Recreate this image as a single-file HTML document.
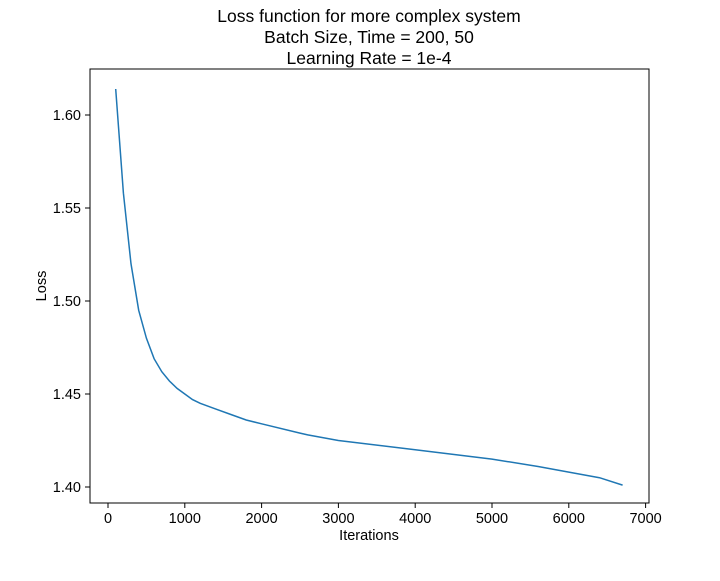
<!DOCTYPE html>
<html><head><meta charset="utf-8">
<style>
body{margin:0;background:#fff;font-family:"Liberation Sans",sans-serif;}
svg text{font-family:"Liberation Sans",sans-serif;fill:#000;}
</style></head>
<body>
<svg id="chart" width="720" height="576" xmlns="http://www.w3.org/2000/svg">
<g id="title">
<text x="369" y="22" font-size="17.5" text-anchor="middle">Loss function for more complex system</text>
<text x="369" y="43" font-size="17.5" text-anchor="middle">Batch Size, Time = 200, 50</text>
<text x="369" y="64" font-size="17.5" text-anchor="middle">Learning Rate = 1e-4</text>
</g>
<rect x="90" y="69" width="559" height="434" fill="none" stroke="#000" stroke-width="1"/>
<g id="xt"></g>
<g id="yt"></g>
<text x="369" y="540" font-size="14.5" text-anchor="middle">Iterations</text>
<text transform="translate(46,286) rotate(-90)" font-size="14.5" text-anchor="middle">Loss</text>
<path id="line" fill="none" stroke="#1f77b4" stroke-width="1.5"/>
</svg>
<script>
const iterations=[100,200,300,400,500,600,700,800,900,1000,1100,1200,1400,1600,1800,2000,2500,2600,3000,4000,5000,5600,6000,6400,6700];
const lossValues=[1.614,1.558,1.520,1.495,1.480,1.469,1.462,1.457,1.453,1.450,1.447,1.445,1.442,1.439,1.436,1.434,1.429,1.428,1.425,1.420,1.415,1.411,1.408,1.405,1.401];
const xTicks=[0,1000,2000,3000,4000,5000,6000,7000];
const yTicks=[1.40,1.45,1.50,1.55,1.60];
const yLabels=["1.40","1.45","1.50","1.55","1.60"];
function sx(v){return 108+v*0.0768;}
function sy(v){return 487-(v-1.40)*1860;}
const ns="http://www.w3.org/2000/svg";
const xt=document.getElementById('xt'),yt=document.getElementById('yt');
xTicks.forEach(t=>{
 const l=document.createElementNS(ns,'line');
 l.setAttribute('x1',sx(t));l.setAttribute('x2',sx(t));l.setAttribute('y1',503);l.setAttribute('y2',508);l.setAttribute('stroke','#000');
 
 
 xt.appendChild(l);
 const tx=document.createElementNS(ns,'text');
 tx.setAttribute('x',sx(t));tx.setAttribute('y',523);tx.setAttribute('font-size','14.5');tx.setAttribute('text-anchor','middle');
 tx.textContent=t;
 
 
 xt.appendChild(tx);
});
yTicks.forEach((t,i)=>{
 const l=document.createElementNS(ns,'line');
 l.setAttribute('x1',85);l.setAttribute('x2',90);l.setAttribute('y1',sy(t));l.setAttribute('y2',sy(t));l.setAttribute('stroke','#000');
 
 
 yt.appendChild(l);
 const tx=document.createElementNS(ns,'text');
 tx.setAttribute('x',81);tx.setAttribute('y',sy(t)+5);tx.setAttribute('font-size','14.5');tx.setAttribute('text-anchor','end');
 tx.textContent=yLabels[i];
 
 
 yt.appendChild(tx);
});
document.getElementById('line').setAttribute('d',iterations.map((x,i)=>(i?'L':'M')+sx(x).toFixed(1)+','+sy(lossValues[i]).toFixed(1)).join(' '));
</script>
</body></html>
